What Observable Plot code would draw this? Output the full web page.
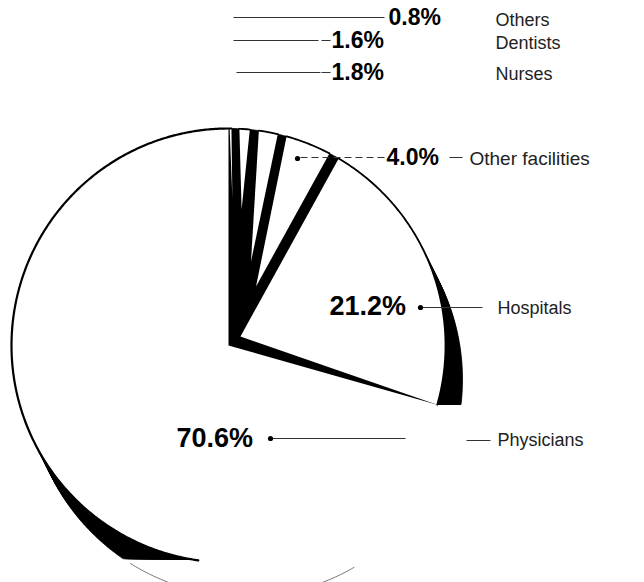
<!DOCTYPE html>
<html><head><meta charset="utf-8">
<script src="https://cdn.jsdelivr.net/npm/d3@7"></script>
<script src="https://cdn.jsdelivr.net/npm/@observablehq/plot@0.6"></script>
<style>
body{margin:0;background:#fff}
#chart svg{display:block;background:#fff}
</style>
</head><body><div id="chart"></div>
<script>
// ---------- data ----------
const categories = ["Others","Dentists","Nurses","Other facilities","Hospitals","Physicians"];
const shares = [0.8,1.6,1.8,4.0,21.2,70.6];
const shareLabels = ["0.8%","1.6%","1.8%","4.0%","21.2%","70.6%"];

// ---------- layout (pixels -> pie units) ----------
const W=644, H=582, CX=228, CY=345, R=217;
const px2x = p => (p-CX)/R, px2y = p => (CY-p)/R;
const deg = Math.PI/180;
const E = [17/R, -34/R];          // depth of the pie
const NSTEP = 20;

const pie = d3.pie().sort(null).value(d=>d)(shares);
const slices = categories.map((c,i)=>({name:c, a0:pie[i].startAngle, a1:pie[i].endAngle}));

// face shape: arc trims (deg) and apex (distance in radii, direction in deg)
const faceShape = {
  "Others":{l:0.3,r:2.1,apex:0.68,dir:1.5},
  "Dentists":{l:0.0,r:3.0,apex:0.63,dir:5.5},
  "Nurses":{l:-0.6,r:2.0,apex:0.40,dir:15},
  "Other facilities":{l:0.4,r:1.8,apex:0.30,dir:25},
  "Hospitals":{l:1.0,r:0,apex:0.069,dir:53},
  "Physicians":{l:0,r:0,apex:0,dir:0}
};
// clipping of the black depth (regions, each a list of half-planes f(p)>=0)
const depthClip = {
  "Hospitals":[[p=>p[1]-px2y(404)]],
  "Physicians":[[p=>p[1]], [p=>px2x(198)-p[0], p=>p[1]-px2y(558), p=>-p[1]]]
};

function arcPts(a0,a1,off=[0,0],rad=1){
  const n=Math.max(2,Math.ceil(Math.abs(a1-a0)/(0.5*deg))), pts=[];
  for(let i=0;i<=n;i++){const t=a0+(a1-a0)*i/n; pts.push([off[0]+rad*Math.sin(t), off[1]+rad*Math.cos(t)]);}
  return pts;
}
function clipHalf(poly,f){
  const out=[];
  for(let i=0;i<poly.length;i++){
    const P=poly[i],Q=poly[(i+1)%poly.length],fp=f(P),fq=f(Q);
    if(fp>=0) out.push(P);
    if((fp>=0)!==(fq>=0)){const t=fp/(fp-fq); out.push([P[0]+t*(Q[0]-P[0]),P[1]+t*(Q[1]-P[1])]);}
  }
  return out;
}
let gid=0;
const depthRows=[], faceRows=[], rimRows=[];
function pushPoly(rows,poly,extra){const id=gid++; poly.forEach(p=>rows.push({id,x:p[0],y:p[1],...extra}));}

for(const s of slices){
  const sector=[[0,0],...arcPts(s.a0,s.a1)];
  const regions=depthClip[s.name]||[[]];
  for(let k=0;k<=NSTEP;k++){
    const sh=sector.map(p=>[p[0]+E[0]*k/NSTEP,p[1]+E[1]*k/NSTEP]);
    for(const reg of regions){
      let poly=sh; for(const f of reg){poly=clipHalf(poly,f); if(!poly.length) break;}
      if(poly.length>2) pushPoly(depthRows,poly,{});
    }
  }
  const fs=faceShape[s.name];
  const b0=s.a0+fs.l*deg, b1=s.a1-fs.r*deg;
  const apex=[fs.apex*Math.sin(fs.dir*deg), fs.apex*Math.cos(fs.dir*deg)];
  pushPoly(faceRows,[apex,...arcPts(b0,b1)],{});
  const r0 = s.name==="Physicians" ? 188*deg : b0;
  pushPoly(rimRows, arcPts(r0,b1), {w: s.name==="Physicians"?2.2:1.8});
}
// faint lower edge of the depth
const faintRows = arcPts(150*deg,212*deg,E).map(p=>({x:p[0],y:p[1]}));

// ---------- labels ----------
const pctPos = [[388,17],[331,40],[331,72],[386,157],[329,306],[176,438]];
const namePos = [[495,20],[495,43],[495,74],[469,158],[497,308],[497,440]];
const pctRows = shareLabels.map((t,i)=>({t, x:px2x(pctPos[i][0]), y:px2y(pctPos[i][1]), big:i>=4}));
const nameRows = categories.map((t,i)=>({t, x:px2x(namePos[i][0]), y:px2y(namePos[i][1]), wide:i===3}));
const leaders = [
  [233,384,17],[233,318,40],[321,330,40],[236,320,72],[321,330,72],
  [449,462,157],[420,482,307],[270,405,438],[466,490,440]
].map(d=>({x1:px2x(d[0]),x2:px2x(d[1]),y:px2y(d[2])}));
const dashLeaders=[[300,384,157]].map(d=>({x1:px2x(d[0]),x2:px2x(d[1]),y:px2y(d[2])}));
const dots=[[297,158],[420,307],[270,438]].map(d=>({x:px2x(d[0]),y:px2y(d[1])}));

const font='"Liberation Sans", Arial, Helvetica, sans-serif';
const chart = Plot.plot({
  width:W, height:H, margin:0,
  x:{domain:[px2x(0),px2x(W)], axis:null},
  y:{domain:[px2y(H),px2y(0)], axis:null},
  style:{fontFamily:font, background:"#fff"},
  marks:[
    Plot.line(depthRows,{x:"x",y:"y",z:"id",fill:"#000",stroke:"#000",strokeWidth:0.8,curve:"linear-closed"}),
    Plot.line(faceRows,{x:"x",y:"y",z:"id",fill:"#fff",stroke:"none",curve:"linear-closed"}),
    Plot.line(rimRows,{x:"x",y:"y",z:"id",stroke:"#000",strokeWidth:d=>d.w}),
    Plot.line(faintRows,{x:"x",y:"y",stroke:"#666",strokeWidth:0.9}),
    Plot.link(leaders,{x1:"x1",x2:"x2",y1:"y",y2:"y",stroke:"#333",strokeWidth:1}),
    Plot.link(dashLeaders,{x1:"x1",x2:"x2",y1:"y",y2:"y",stroke:"#333",strokeWidth:1,strokeDasharray:"7,4"}),
    Plot.dot(dots,{x:"x",y:"y",r:2.6,fill:"#000"}),
    Plot.text(pctRows.filter(d=>!d.big),{x:"x",y:"y",text:"t",textAnchor:"start",fontSize:23,fontWeight:"bold",fill:"#000"}),
    Plot.text(pctRows.filter(d=>d.big),{x:"x",y:"y",text:"t",textAnchor:"start",fontSize:27,fontWeight:"bold",fill:"#000"}),
    Plot.text(nameRows.filter(d=>!d.wide),{x:"x",y:"y",text:"t",textAnchor:"start",fontSize:18,fill:"#222",style:"letter-spacing:0.8px"}),
    Plot.text(nameRows.filter(d=>d.wide),{x:"x",y:"y",text:"t",textAnchor:"start",fontSize:19,fill:"#222",style:"letter-spacing:3.6px"})
  ]
});
document.getElementById("chart").append(chart);
</script>
</body></html>
